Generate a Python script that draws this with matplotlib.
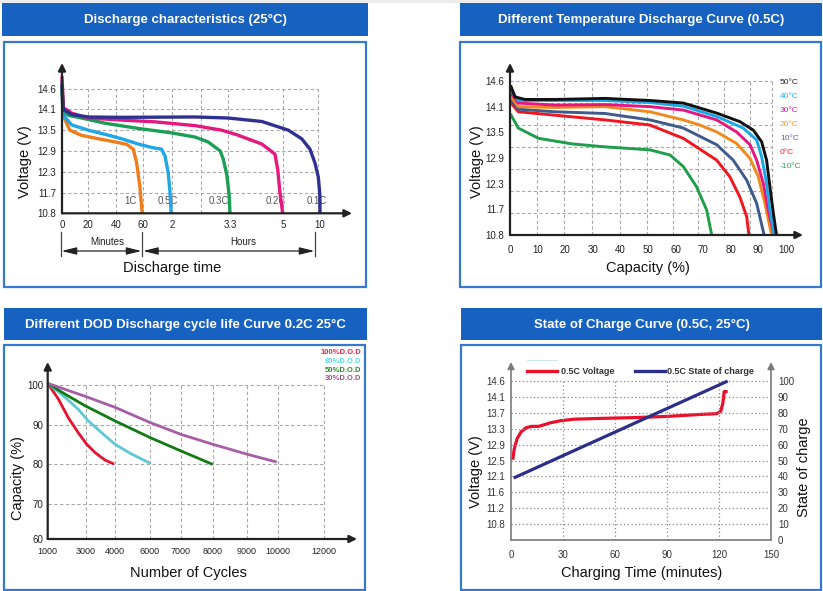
import numpy as np
import matplotlib
matplotlib.use('Agg')
import matplotlib.pyplot as plt
from matplotlib.patches import Rectangle, FancyArrowPatch
from matplotlib.lines import Line2D

plt.rcParams['font.family'] = ['Liberation Sans', 'DejaVu Sans']

# ---------------- DATA ----------------
# Panel 1: discharge characteristics (time in hours, voltage in V)
p1_1c_h = [0, 0.017, 0.038, 0.10, 0.25, 0.46, 0.655, 0.80, 0.88, 0.92, 0.96, 0.99]
p1_1c_v = [14.48, 14.1, 13.8, 13.5, 13.35, 13.25, 13.16, 13.09, 12.95, 12.57, 11.9, 10.8]
p1_05c_h = [0, 0.005, 0.038, 0.124, 0.337, 0.535, 0.737, 0.94, 1.30, 1.64, 1.76, 1.87, 1.93, 1.97]
p1_05c_v = [14.8, 14.27, 13.87, 13.65, 13.5, 13.38, 13.25, 13.1, 13.0, 12.95, 12.75, 12.27, 11.72, 10.8]
p1_03c_h = [0, 0.017, 0.08, 0.25, 0.535, 0.94, 1.99, 2.52, 2.81, 3.08, 3.15, 3.23, 3.28, 3.3]
p1_03c_v = [14.6, 14.1, 13.93, 13.85, 13.7, 13.55, 13.42, 13.3, 13.16, 12.9, 12.66, 12.2, 11.6, 10.8]
p1_02c_h = [0, 0.017, 0.124, 0.337, 0.737, 1.41, 2.52, 3.11, 3.51, 4.32, 4.74, 4.83, 4.90, 4.99]
p1_02c_v = [14.9, 14.14, 13.99, 13.85, 13.79, 13.74, 13.63, 13.5, 13.37, 13.1, 12.81, 12.37, 11.72, 10.8]
p1_01c_h = [0, 0.017, 0.124, 0.337, 0.737, 2.52, 3.26, 4.32, 5.72, 7.53, 8.65, 9.32, 9.77, 9.98, 10.0]
p1_01c_v = [14.7, 14.1, 13.95, 13.88, 13.87, 13.88, 13.85, 13.75, 13.5, 13.25, 12.95, 12.55, 12.15, 11.6, 10.8]
p1_rates = ['1C', '0.5C', '0.3C', '0.2C', '0.1C']
p1_yticks = [10.8, 11.7, 12.3, 12.9, 13.5, 14.1, 14.6]
p1_xticks_h = [0, 1/3, 2/3, 1, 2, 3.3, 5, 10]
p1_xtick_labels = ['0', '20', '40', '60', '2', '3.3', '5', '10']

# Panel 2: temperature discharge (capacity %, voltage V)
p2_labels = ['50°C', '40°C', '30°C', '20°C', '10°C', '0°C', '-10°C']
p2_50_c = [0.4, 1.8, 5.4, 16.3, 34.4, 50.7, 62.8, 74.9, 83.3, 88.2, 91.2, 93.0, 94.2, 95.4, 96.6]
p2_50_v = [14.49, 14.29, 14.24, 14.24, 14.26, 14.22, 14.17, 13.95, 13.75, 13.55, 13.28, 12.85, 12.23, 11.6, 10.8]
p2_40_c = [0.4, 3.0, 16.3, 34.4, 50.7, 62.8, 74.9, 84.5, 89.4, 91.2, 92.8, 94.2, 95.8]
p2_40_v = [14.42, 14.22, 14.22, 14.22, 14.18, 14.11, 13.87, 13.6, 13.32, 12.93, 12.38, 11.67, 10.8]
p2_30_c = [0.4, 3.0, 16.3, 34.4, 50.7, 62.8, 74.9, 82.1, 87.0, 89.4, 91.8, 93.6, 95.7]
p2_30_v = [14.36, 14.17, 14.13, 14.14, 14.1, 14.02, 13.79, 13.51, 13.21, 12.85, 12.31, 11.67, 10.8]
p2_20_c = [0.4, 3.0, 16.3, 34.4, 50.7, 62.8, 68.8, 74.9, 82.1, 87.0, 90.0, 92.4, 94.8]
p2_20_v = [14.29, 14.1, 14.08, 14.1, 13.98, 13.79, 13.67, 13.51, 13.24, 12.89, 12.46, 11.84, 10.8]
p2_10_c = [0.4, 3.0, 16.3, 34.4, 50.7, 62.8, 74.9, 80.9, 85.8, 89.4, 92.1]
p2_10_v = [14.23, 14.04, 13.98, 13.94, 13.79, 13.6, 13.21, 12.85, 12.38, 11.84, 10.8]
p2_0_c = [0.4, 3.0, 16.3, 34.4, 50.7, 62.8, 74.9, 79.7, 83.3, 85.8, 86.6]
p2_0_v = [14.17, 13.98, 13.9, 13.79, 13.67, 13.36, 12.85, 12.46, 11.99, 11.44, 10.8]
p2_m10_c = [0.4, 3.0, 10.3, 22.4, 34.4, 50.7, 58.0, 62.8, 67.6, 71.3, 73.1]
p2_m10_v = [13.9, 13.6, 13.36, 13.23, 13.16, 13.09, 12.97, 12.7, 12.23, 11.67, 10.8]
p2_yticks = [10.8, 11.7, 12.3, 12.9, 13.5, 14.1, 14.6]
p2_xticks = [0, 10, 20, 30, 40, 50, 60, 70, 80, 90, 100]

# Panel 3: DOD cycle life (cycles, capacity %)
p3_labels = ['100%D.O.D', '80%D.O.D', '50%D.O.D', '30%D.O.D']
p3_100_n = [1000, 1558, 2084, 2611, 3034, 3317, 3659, 3966]
p3_100_c = [100.3, 96.4, 91.7, 87.9, 85.0, 82.9, 81.0, 80.0]
p3_80_n = [1000, 1911, 2611, 3089, 3546, 4000, 4954, 6000]
p3_80_c = [100.3, 96.8, 93.8, 90.9, 87.9, 85.0, 82.5, 80.2]
p3_50_n = [1000, 1911, 2963, 4000, 6000, 7000, 8000]
p3_50_c = [100.3, 97.6, 94.7, 90.9, 86.7, 83.3, 79.9]
p3_30_n = [1000, 3000, 4000, 6000, 7000, 8000, 9000, 9949]
p3_30_c = [100.3, 97.0, 94.3, 90.5, 87.5, 85.0, 82.5, 80.5]
p3_xticks = [1000, 3000, 4000, 6000, 7000, 8000, 9000, 10000, 12000]
p3_yticks = [60, 70, 80, 90, 100]

# Panel 4: state of charge (minutes)
p4_t = [1.0, 1.9, 3.5, 5.8, 8.8, 12.1, 15.9, 19.8, 22.7, 28.4, 36.1, 51.5, 70.7, 89.9, 109.1, 118.7, 121.0, 122.2, 123.0, 125.0]
p4_v = [12.52, 12.8, 13.05, 13.22, 13.33, 13.36, 13.36, 13.41, 13.45, 13.50, 13.54, 13.56, 13.58, 13.61, 13.66, 13.68, 13.74, 13.94, 14.27, 14.27]
p4_soc_t = [1.5, 125.0]
p4_soc = [39.0, 100.0]
p4_vticks = [10.8, 11.2, 11.6, 12.1, 12.5, 12.9, 13.3, 13.7, 14.1, 14.6]
p4_socticks = [0, 10, 20, 30, 40, 50, 60, 70, 80, 90, 100]
p4_xticks = [0, 30, 60, 90, 120, 150]

# ---------------- FIGURE ----------------
W, H = 823, 591
fig = plt.figure(figsize=(W / 100, H / 100), dpi=100)
fig.patch.set_facecolor('white')


def fx(x):
    return x / W


def fy(y):
    return 1 - y / H


def add_ax(x0, y0, x1, y1):
    ax = fig.add_axes([fx(x0), fy(y1), (x1 - x0) / W, (y1 - y0) / H])
    ax.set_facecolor('none')
    for s in ax.spines.values():
        s.set_visible(False)
    return ax


def interp_scale(vals, pos):
    vals = np.asarray(vals, float)
    pos = np.asarray(pos, float)

    def fwd(v):
        return np.interp(np.asarray(v, float), vals, pos)

    def inv(p):
        return np.interp(np.asarray(p, float), pos, vals)
    return fwd, inv


def axis_arrow(ax, start, end, color, lw, ms=11):
    ax.annotate('', xy=end, xytext=start, xycoords='axes fraction', textcoords='axes fraction',
                arrowprops=dict(arrowstyle='-|>', color=color, lw=lw, mutation_scale=ms,
                                shrinkA=0, shrinkB=0), annotation_clip=False)


def ftext(x, y, s, **kw):
    fig.text(fx(x), fy(y), s, **kw)


HEAD = '#1761c0'
BORDER = '#3579d3'

fig.add_artist(Rectangle((0, fy(3)), 1, 3 / H, transform=fig.transFigure,
                         facecolor='#ececec', edgecolor='none', zorder=-2))


def panel(hx0, hy0, hx1, hy1, bx0, by0, bx1, by1, title):
    fig.add_artist(Rectangle((fx(hx0), fy(hy1)), (hx1 - hx0) / W, (hy1 - hy0) / H,
                             transform=fig.transFigure, facecolor=HEAD, edgecolor='none', zorder=-1))
    fig.add_artist(Rectangle((fx(bx0), fy(by1)), (bx1 - bx0) / W, (by1 - by0) / H,
                             transform=fig.transFigure, facecolor='white', edgecolor=BORDER,
                             lw=1.6, zorder=-1))
    ftext((hx0 + hx1) / 2, (hy0 + hy1) / 2 + 0.5, title, color='white', fontsize=9.5,
          fontweight='bold', ha='center', va='center')


panel(2, 3, 368, 36, 4, 42, 366, 287, 'Discharge characteristics (25°C)')
panel(460, 3, 822, 36, 460, 42, 821, 287, 'Different Temperature Discharge Curve (0.5C)')
panel(4, 308, 367, 340, 4, 345, 365, 590, 'Different DOD Discharge cycle life Curve 0.2C 25°C')
panel(461, 308, 822, 340, 461, 345, 821, 590, 'State of Charge Curve (0.5C, 25°C)')

GRID = '#a8a8a8'
DASH = (0, (3, 2.2))

# ---------------- PANEL 1 ----------------
ax1 = add_ax(62, 63, 352, 213.3)
fwd, inv = interp_scale([0, 1/3, 2/3, 1, 2, 3.3, 5, 10, 14.33], [0, 26, 54, 81, 110, 168, 221, 258, 290])
ax1.set_xscale('function', functions=(fwd, inv))
fwd, inv = interp_scale([10.8, 11.7, 12.3, 12.9, 13.5, 14.1, 14.6, 15.1, 15.6], range(9))
ax1.set_yscale('function', functions=(fwd, inv))
ax1.set_xlim(0, 14.33)
ax1.set_ylim(10.8, 15.215)
ax1.set_xticks(p1_xticks_h, p1_xtick_labels)
ax1.set_yticks(p1_yticks, [f'{v:.1f}' for v in p1_yticks])
ax1.set_xticks([], minor=True)
ax1.set_yticks([], minor=True)
ax1.tick_params(length=0, labelsize=7, colors='#222')
ax1.tick_params(axis='x', pad=5)
ax1.tick_params(axis='y', pad=4)
grid_h = [1/3, 2/3, 1, 2, 2.65, 3.25, 5, 9.73]
ax1.hlines(p1_yticks[1:], 0, 9.73, colors=GRID, linestyles=DASH, lw=0.8, zorder=1)
ax1.vlines(grid_h, 10.8, 14.6, colors=GRID, linestyles=DASH, lw=0.8, zorder=1)
lab_px = [130.5, 167.5, 218.7, 275.5, 316.7]
for lbl, px in zip(p1_rates, lab_px):
    ax1.text((px - 62) / 290, 0.082, lbl, transform=ax1.transAxes, fontsize=7, color='#555',
             ha='center', va='center', zorder=1.5)
p1_series = [(p1_1c_h, p1_1c_v, '#ef7d1b'), (p1_05c_h, p1_05c_v, '#1ea6e6'),
             (p1_03c_h, p1_03c_v, '#1b9f55'), (p1_02c_h, p1_02c_v, '#e5187f'),
             (p1_01c_h, p1_01c_v, '#2e3192')]
for hh, vv, c in p1_series:
    ax1.plot(hh, vv, color=c, lw=2.4, solid_joinstyle='round', solid_capstyle='butt', zorder=3, clip_on=False)
axis_arrow(ax1, (0, 0), (0, 1), '#222', 1.6)
axis_arrow(ax1, (0, 0), (1, 0), '#222', 1.6)

# minutes / hours annotations
def fline(xs, ys, **kw):
    fig.add_artist(Line2D([fx(x) for x in xs], [fy(y) for y in ys], transform=fig.transFigure, **kw))


def farrow(x0, x1, y):
    fig.add_artist(FancyArrowPatch((fx(x0), fy(y)), (fx(x1), fy(y)), transform=fig.transFigure,
                                   arrowstyle='<|-|>,head_length=0.9,head_width=0.22',
                                   mutation_scale=10, lw=0.9, color='#222', shrinkA=0, shrinkB=0))


for bx in (61, 142, 315):
    fline([bx, bx], [232, 256], color='#444', lw=0.9)
farrow(61.5, 141.5, 251)
farrow(143, 314.5, 251)
ftext(107, 242, 'Minutes', fontsize=7, ha='center', va='center', color='#222')
ftext(243, 242, 'Hours', fontsize=7, ha='center', va='center', color='#222')
ftext(172, 268, 'Discharge time', fontsize=10.5, ha='center', va='center', color='#111')
ftext(25, 162, 'Voltage (V)', fontsize=10.5, ha='center', va='center', rotation=90, color='#111')

# ---------------- PANEL 2 ----------------
ax2 = add_ax(510, 63, 803, 235)
fwd, inv = interp_scale([10.8, 11.7, 12.3, 12.9, 13.5, 14.1, 14.6, 15.1], range(8))
ax2.set_yscale('function', functions=(fwd, inv))
ax2.set_xlim(0, 106.2)
ax2.set_ylim(10.8, 14.95)
ax2.set_xticks(p2_xticks, [str(v) for v in p2_xticks])
ax2.set_yticks(p2_yticks, [f'{v:.1f}' for v in p2_yticks])
ax2.set_xticks([], minor=True)
ax2.set_yticks([], minor=True)
ax2.tick_params(length=0, labelsize=7, colors='#222')
ax2.tick_params(axis='x', pad=7)
ax2.tick_params(axis='y', pad=4)
g2_y = inv(np.arange(1, 8) * 6 / 7)
g2_x = [9.8, 19.6, 29.7, 39.9, 49.6, 59.1, 68.1, 77.5, 87.0, 94.9]
ax2.hlines(g2_y, 0, 94.9, colors=GRID, linestyles=DASH, lw=0.8, zorder=1)
ax2.vlines(g2_x, 10.8, 14.6, colors=GRID, linestyles=DASH, lw=0.8, zorder=1)
p2_series = [(p2_m10_c, p2_m10_v, '#1f9e4b'), (p2_0_c, p2_0_v, '#f0151f'),
             (p2_10_c, p2_10_v, '#3e5b8b'), (p2_20_c, p2_20_v, '#f08a1d'),
             (p2_30_c, p2_30_v, '#e5167f'), (p2_40_c, p2_40_v, '#1ba7e8'),
             (p2_50_c, p2_50_v, '#111111')]
for cc, vv, c in p2_series:
    ax2.plot(cc, vv, color=c, lw=2.1, solid_joinstyle='round', zorder=3)
axis_arrow(ax2, (0, 0), (0, 1), '#222', 1.6)
axis_arrow(ax2, (0, 0), (1, 0), '#222', 1.6)
p2_leg_colors = ['#222222', '#1eb4f0', '#e5169e', '#f39a2a', '#5a62ad', '#ff1a1a', '#27a548']
p2_leg_y = [82.3, 96.7, 110.7, 125, 138.3, 152.7, 166.7]
for lbl, c, yy in zip(p2_labels, p2_leg_colors, p2_leg_y):
    ftext(780, yy, lbl, fontsize=6, color=c, ha='left', va='center')
ftext(477, 162, 'Voltage (V)', fontsize=10.5, ha='center', va='center', rotation=90, color='#111')
ftext(648, 268, 'Capacity (%)', fontsize=10.5, ha='center', va='center', color='#111')

# ---------------- PANEL 3 ----------------
ax3 = add_ax(47.7, 362, 357, 539)
fwd, inv = interp_scale([1000, 3000, 4000, 6000, 7000, 8000, 9000, 10000, 12000, 13500],
                        [0, 38, 67.3, 102.3, 133.3, 165, 199, 230.6, 276.3, 309.3])
ax3.set_xscale('function', functions=(fwd, inv))
fwd, inv = interp_scale([60, 70, 80, 90, 100, 110], [0, 35, 75, 114.5, 154.5, 194])
ax3.set_yscale('function', functions=(fwd, inv))
ax3.set_xlim(1000, 13500)
ax3.set_ylim(60, 105.7)
ax3.set_xticks(p3_xticks, [str(v) for v in p3_xticks])
ax3.set_yticks(p3_yticks, [str(v) for v in p3_yticks])
ax3.set_xticks([], minor=True)
ax3.set_yticks([], minor=True)
ax3.tick_params(length=0, colors='#222')
ax3.tick_params(axis='x', pad=6, labelsize=6.5)
ax3.tick_params(axis='y', pad=3, labelsize=7)
ax3.hlines(p3_yticks[1:], 1000, 12000, colors=GRID, linestyles=DASH, lw=0.8, zorder=1)
ax3.vlines(p3_xticks[1:], 60, 100, colors=GRID, linestyles=DASH, lw=0.8, zorder=1)
p3_colors = ['#e8112d', '#5ec8d6', '#137a13', '#a65ea6']
p3_series = [(p3_100_n, p3_100_c), (p3_80_n, p3_80_c), (p3_50_n, p3_50_c), (p3_30_n, p3_30_c)]
for (nn, cc), c in zip(p3_series, p3_colors):
    ax3.plot(nn, cc, color=c, lw=2.0, solid_joinstyle='round', solid_capstyle='butt', zorder=3)
axis_arrow(ax3, (0, 0), (0, 1), '#222', 1.6)
axis_arrow(ax3, (0, 0), (1, 0), '#222', 1.6)
p3_leg_colors = ['#ff1a3c', '#5fdde6', '#2a8a2a', '#a0508a']
for lbl, c, yy in zip(p3_labels, p3_leg_colors, [352.7, 361.7, 370, 378.7]):
    ftext(361.7, yy, lbl, fontsize=5.5, fontweight='bold', color=c, ha='right', va='center')
ftext(18, 478, 'Capacity (%)', fontsize=10.5, ha='center', va='center', rotation=90, color='#111')
ftext(188, 573, 'Number of Cycles', fontsize=10.5, ha='center', va='center', color='#111')

# ---------------- PANEL 4 ----------------
ax4 = add_ax(511, 362, 771, 540)
fwd, inv = interp_scale([10.4] + p4_vticks + [15.2], [0, 10, 20, 30, 40, 50, 60, 70, 80, 90, 100, 112])
ax4.set_yscale('function', functions=(fwd, inv))
ax4.set_xlim(0, 150)
ax4.set_ylim(10.4, 15.2)
ax4.set_xticks(p4_xticks, [str(v) for v in p4_xticks])
ax4.set_yticks(p4_vticks, [f'{v:.1f}' for v in p4_vticks])
ax4.set_xticks([], minor=True)
ax4.set_yticks([], minor=True)
ax4.tick_params(length=0, labelsize=7, colors='#333')
ax4.tick_params(axis='x', pad=7)
ax4.tick_params(axis='y', pad=4.5)
ax4r = ax4.twinx()
ax4r.set_facecolor('none')
for s in ax4r.spines.values():
    s.set_visible(False)
ax4r.set_ylim(0, 112)
ax4r.set_yticks(p4_socticks, [str(v) for v in p4_socticks])
ax4r.tick_params(length=0, labelsize=7, colors='#333', pad=5)
DOT = (0, (1, 2))
ax4r.hlines(p4_socticks[1:], 0, 150, colors='#888', linestyles=DOT, lw=0.9, zorder=1)
ax4r.vlines([30, 60, 90, 120], 0, 100, colors='#888', linestyles=DOT, lw=0.9, zorder=1)
ax4.plot(p4_t, p4_v, color='#e8102a', lw=2.3, solid_joinstyle='round', solid_capstyle='butt', zorder=3)
ax4r.plot(p4_soc_t, p4_soc, color='#2b2f8a', lw=2.3, solid_capstyle='butt', zorder=3)
axis_arrow(ax4r, (0, 0), (0, 1), '#7a7a7a', 1.2, ms=10)
axis_arrow(ax4r, (1, 0), (1, 1), '#7a7a7a', 1.2, ms=10)
ax4r.plot([0, 1], [0, 0], transform=ax4r.transAxes, color='#7a7a7a', lw=1.2, clip_on=False)
# legend
fline([527, 557], [360, 360], color='#cfe6f7', lw=0.8)
fline([527, 557], [371, 371], color='#e8102a', lw=2.4)
ftext(561, 371, '0.5C Voltage', fontsize=6.5, fontweight='bold', color='#333', ha='left', va='center')
fline([635, 665], [371, 371], color='#2b2f8a', lw=2.4)
ftext(667, 371, '0.5C State of charge', fontsize=6.5, fontweight='bold', color='#333', ha='left', va='center')
ftext(476, 472, 'Voltage (V)', fontsize=10.5, ha='center', va='center', rotation=90, color='#111')
ftext(804, 467, 'State of charge', fontsize=10.5, ha='center', va='center', rotation=90, color='#111')
ftext(642, 573, 'Charging Time (minutes)', fontsize=10.5, ha='center', va='center', color='#111')

fig.savefig('out.png', dpi=100)
